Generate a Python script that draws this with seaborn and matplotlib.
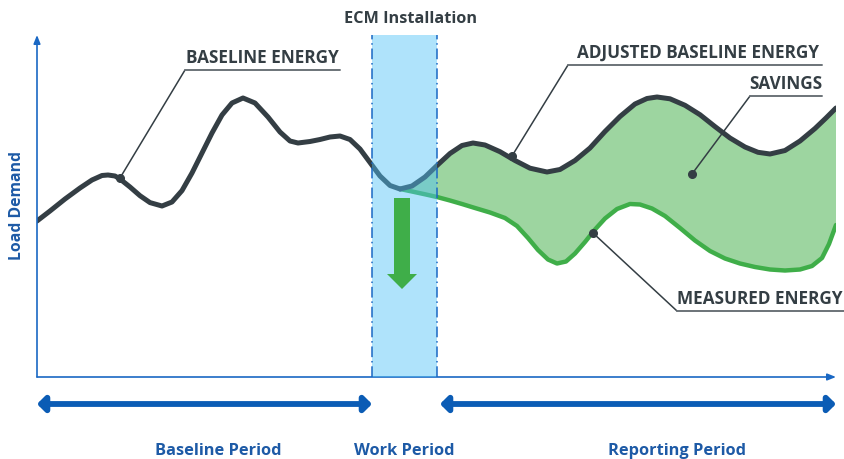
import matplotlib
matplotlib.use('Agg')
import matplotlib.pyplot as plt
from matplotlib.patches import FancyArrow
import seaborn as sns
import pandas as pd

# --- data (time steps vs load, arbitrary units) ---
baseline_t = [0, 13, 28, 43, 55, 65, 71, 78, 83, 93, 103, 113, 125, 135, 145, 155, 165, 175,
              185, 195, 206, 218, 231, 243, 253, 261, 273, 283, 293, 303, 313, 323, 333, 343,
              353, 363]
baseline_load = [156, 166, 178, 189, 197, 201.5, 202, 201, 198, 190, 181.3, 174.4, 171, 175,
                 186.4, 204, 224, 244, 262, 274, 279, 274, 260, 245, 236, 234, 235.5, 237.5,
                 240, 241, 237.5, 228, 214.5, 201, 191.5, 188]

adjusted_t = [363, 375, 388, 400, 413, 425, 436, 448, 463, 478, 493, 510, 523, 538, 553, 568,
              583, 598, 610, 620, 633, 648, 663, 678, 693, 708, 721, 733, 748, 763, 778, 789, 799]
adjusted_load = [188, 191, 200, 211.5, 223.5, 231.5, 234, 232, 225.3, 216.5, 208.8, 205, 207.5,
                 216.5, 229, 245.5, 260.5, 273, 278.5, 280, 278.2, 271.7, 262.3, 250.4, 239,
                 230, 224.7, 223, 226.5, 236, 248.5, 259, 269]

measured_t = [363, 375, 388, 400, 413, 425, 438, 453, 468, 480, 491, 501, 511, 520, 529, 538,
              548, 558, 568, 580, 593, 603, 615, 628, 643, 658, 673, 688, 703, 718, 733, 748,
              763, 775, 785, 792, 799]
measured_load = [188, 185.5, 182.7, 180, 176.5, 173, 169, 164.5, 159, 151, 139, 127, 117.5,
                 113.5, 115.5, 123.5, 135, 147.5, 158.5, 168, 173, 172.5, 168.5, 161, 149,
                 136.5, 126, 118.5, 113.5, 110, 107.5, 106.5, 107.5, 111, 119, 133, 152]

work_start, work_end = 335, 400
t_max, load_max = 799, 342

periods = ['Baseline Period', 'Work Period', 'Reporting Period']

dark = '#343e44'
blue = '#1a68c4'
navy = '#0b5cb5'
green = '#3fae49'

sns.set_style('white')
plt.rcParams['font.family'] = ['Open Sans', 'DejaVu Sans']

fig = plt.figure(figsize=(8.45, 4.59), dpi=100)
ax = fig.add_axes([37 / 845, 82 / 459, 799 / 845, 342 / 459])
ax.set_xlim(0, t_max)
ax.set_ylim(0, load_max)
ax.axis('off')

base_df = pd.DataFrame({'t': baseline_t, 'load': baseline_load})
adj_df = pd.DataFrame({'t': adjusted_t, 'load': adjusted_load})
meas_df = pd.DataFrame({'t': measured_t, 'load': measured_load})

# savings area between adjusted baseline and measured
ax.fill(adjusted_t + measured_t[::-1], adjusted_load + measured_load[::-1],
        color='#9dd5a0', lw=0, zorder=1)

line_kw = dict(solid_capstyle='round', solid_joinstyle='round')
sns.lineplot(data=meas_df, x='t', y='load', ax=ax, color=green, lw=3.2, zorder=2,
             sort=False, **line_kw)
sns.lineplot(data=base_df, x='t', y='load', ax=ax, color=dark, lw=3.6, zorder=3,
             sort=False, **line_kw)
sns.lineplot(data=adj_df, x='t', y='load', ax=ax, color=dark, lw=3.6, zorder=3,
             sort=False, **line_kw)
ax.set_xlabel('')
ax.set_ylabel('')

# work period band (overlay)
ax.axvspan(work_start, work_end, color='#4fc3f7', alpha=0.45, lw=0, zorder=4)
for xv in (work_start, work_end):
    ax.plot([xv, xv], [0, load_max], color=blue, lw=1.1, ls=(0, (7, 2.5, 1, 2.5)), zorder=5)

# reduction arrow
ax.add_patch(FancyArrow(365, 179, 0, -91, width=16, head_width=30, head_length=15,
                        length_includes_head=True, color=green, lw=0, zorder=6))

# axes arrows
arrow_kw = dict(arrowstyle='-|>,head_length=0.5,head_width=0.2', color=blue, lw=1.2,
                shrinkA=0, shrinkB=0)
ax.annotate('', xy=(0, load_max), xytext=(0, 0), arrowprops=arrow_kw, annotation_clip=False)
ax.annotate('', xy=(t_max, 0), xytext=(0, 0), arrowprops=arrow_kw, annotation_clip=False)

ax.text(-20, 171, 'Load Demand', rotation=90, ha='center', va='center', color='#1d5aa6',
        fontsize=11.3, fontweight='bold', clip_on=False)
ax.text(374, 358, 'ECM Installation', ha='center', va='center', color=dark,
        fontsize=11.7, fontweight='bold', clip_on=False)


def callout(label, dot, elbow, line_end, text_x, ha):
    ax.plot([dot[0], elbow[0]], [dot[1], elbow[1]], color=dark, lw=1.1, zorder=7, clip_on=False)
    ax.plot([elbow[0], line_end], [elbow[1], elbow[1]], color='#6b7378', lw=1.4, zorder=7,
            clip_on=False)
    ax.plot(*dot, 'o', color=dark, ms=5.5, zorder=8)
    ax.text(text_x, elbow[1] + 3, label, ha=ha, va='bottom', color=dark, fontsize=12.3,
            fontweight='bold', clip_on=False)


callout('BASELINE ENERGY', (83, 199), (148, 307), 303, 149, 'left')
callout('ADJUSTED BASELINE ENERGY', (475, 221), (531, 312), 785, 782, 'right')
callout('SAVINGS', (655, 203), (713, 281), 785, 785, 'right')
callout('MEASURED ENERGY', (556, 144), (640, 66), 808, 806, 'right')

# period arrows
per_kw = dict(arrowstyle='<|-|>,head_length=0.45,head_width=0.45', color=navy, lw=4.2,
              shrinkA=0, shrinkB=0)
ax.annotate('', xy=(0, -27), xytext=(work_start, -27), arrowprops=per_kw, annotation_clip=False)
ax.annotate('', xy=(403, -27), xytext=(t_max, -27), arrowprops=per_kw, annotation_clip=False)

for label, xc in zip(periods, [181, 367, 640]):
    ax.text(xc, -74, label, ha='center', va='center', color='#1d5aa6', fontsize=11.8,
            fontweight='bold', clip_on=False)

fig.savefig('out.png', dpi=100)
